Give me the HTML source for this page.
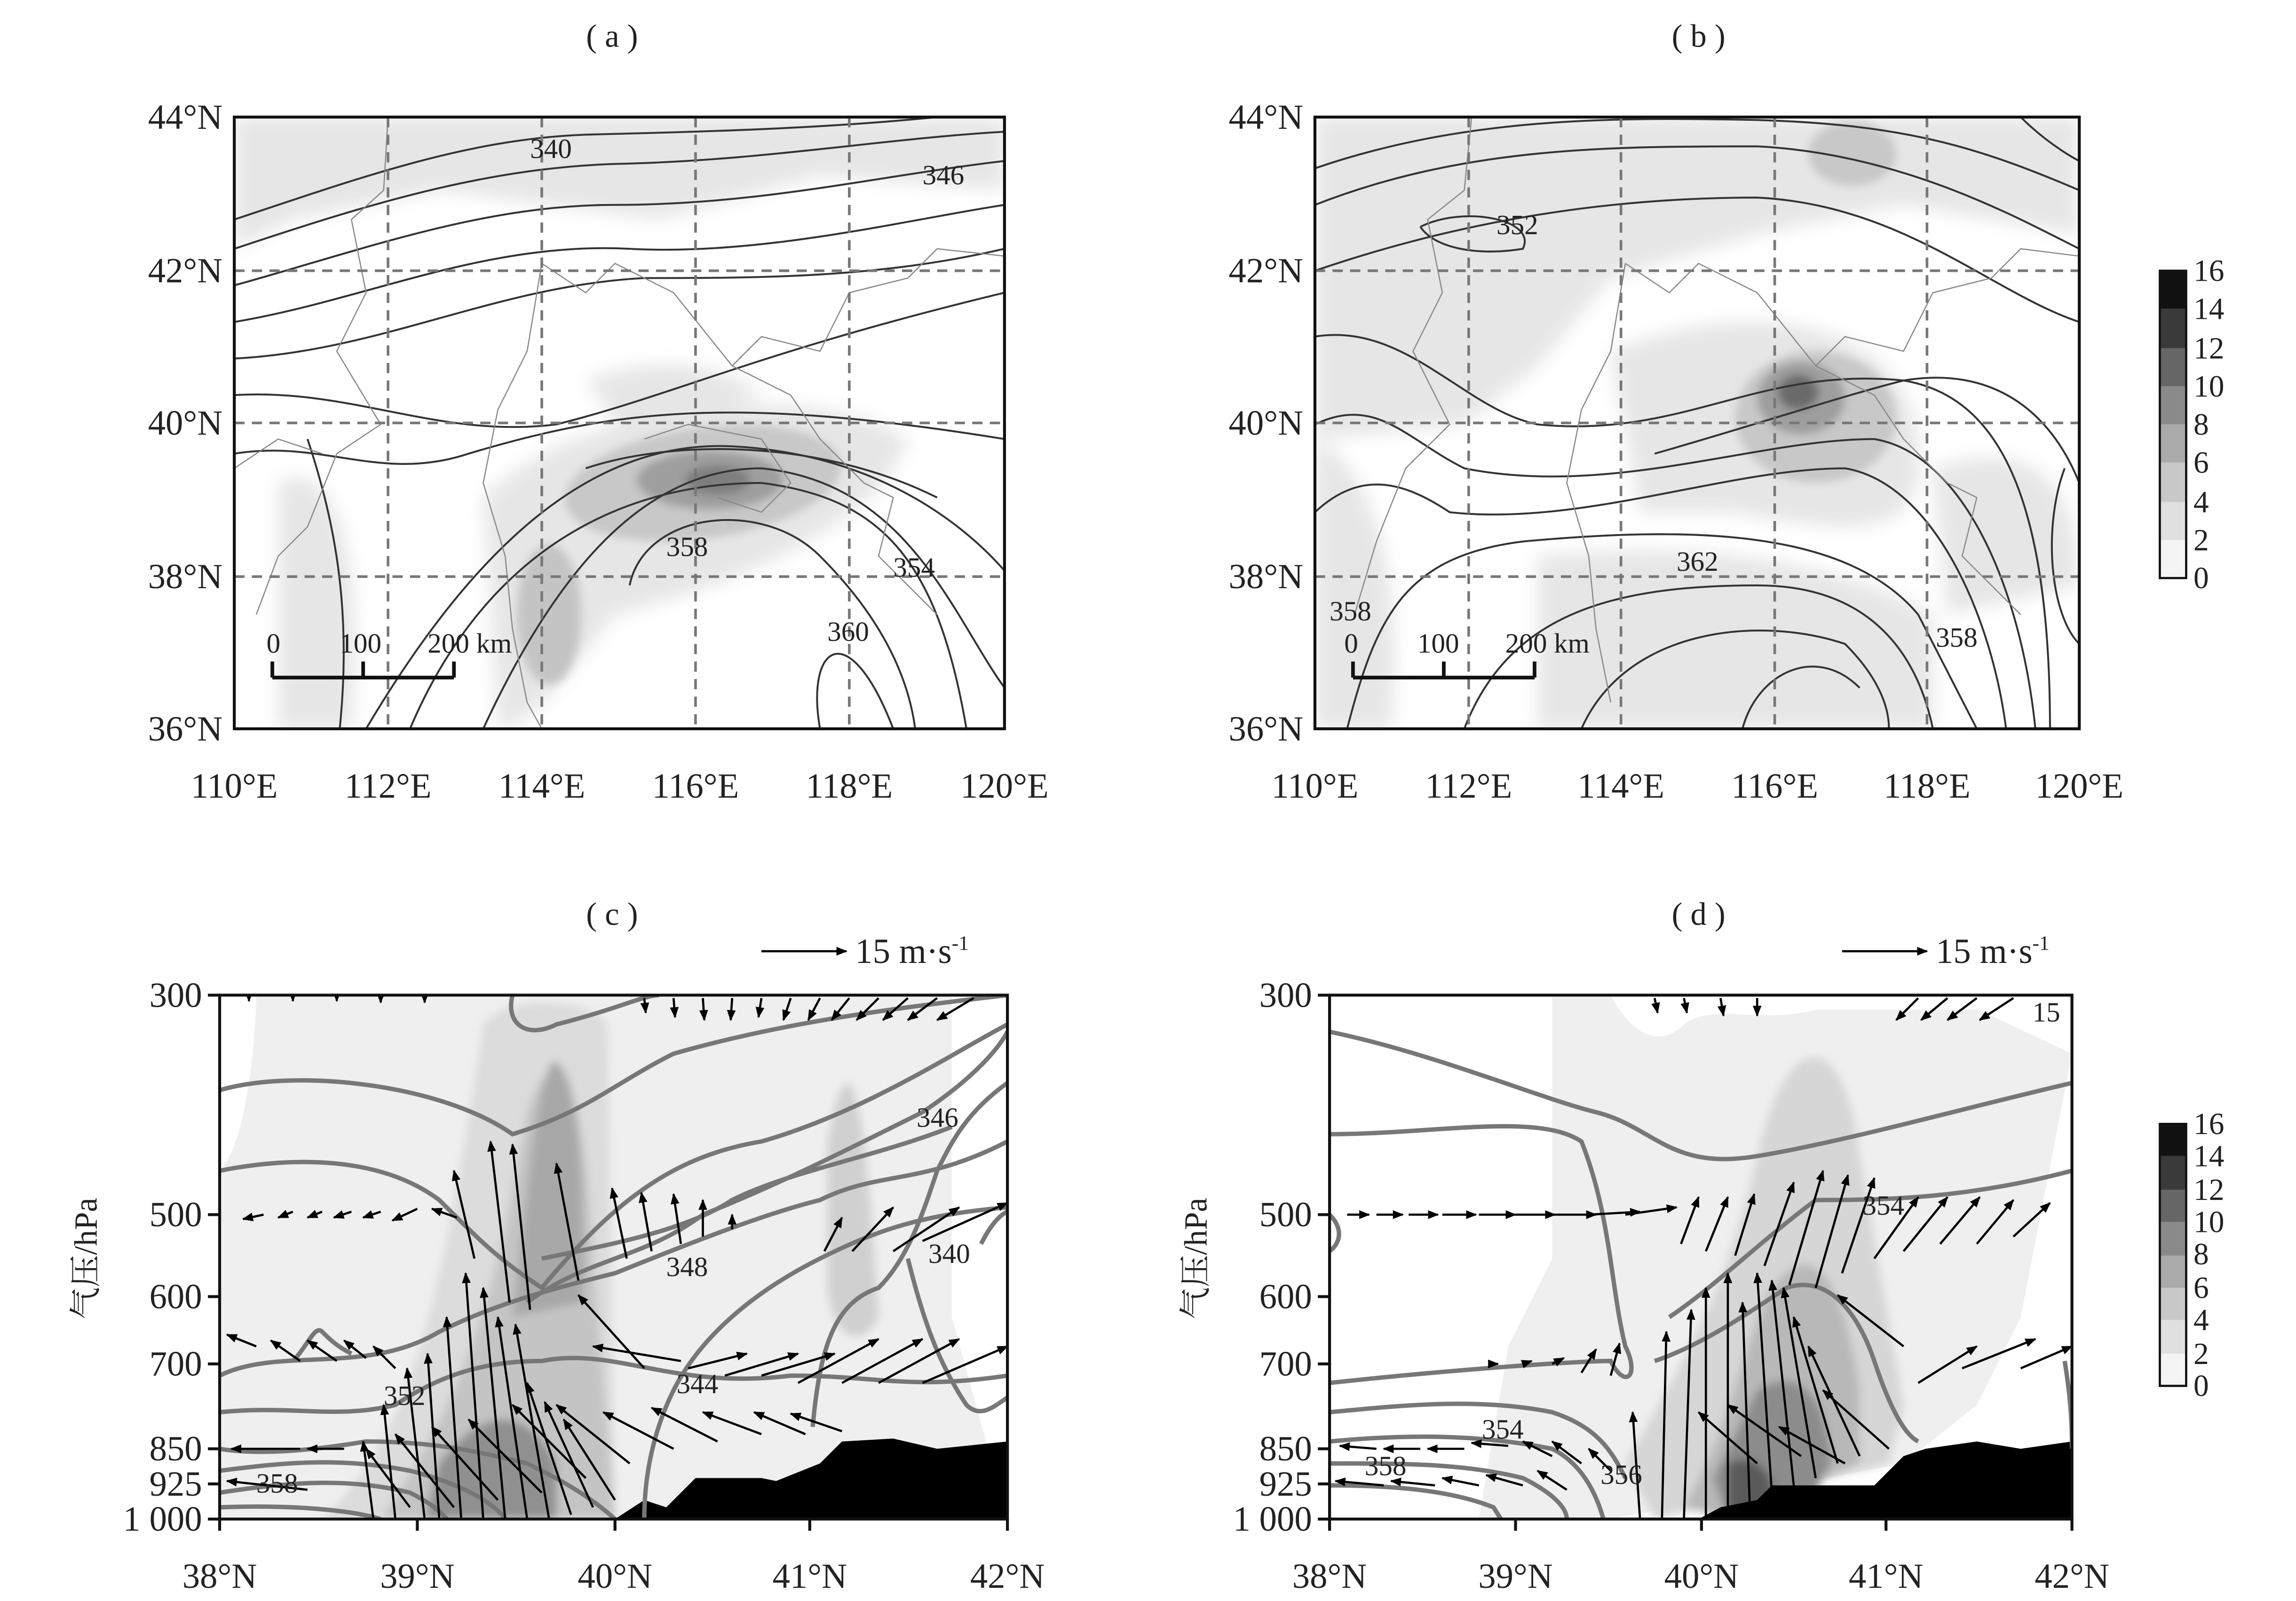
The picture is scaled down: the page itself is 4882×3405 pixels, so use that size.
<!DOCTYPE html>
<html><head><meta charset="utf-8"><style>
html,body{margin:0;padding:0;background:#fff}
svg{display:block}
text{font-family:"Liberation Serif","Noto Serif CJK SC",serif;fill:#222}
</style></head><body>
<svg width="4882" height="3405" viewBox="0 0 1568 1094" preserveAspectRatio="none" xmlns="http://www.w3.org/2000/svg">
<defs>
<marker id="ah" viewBox="0 0 10 10" refX="9" refY="5" markerWidth="5" markerHeight="5" orient="auto"><path d="M0,1 L10,5 L0,9 z" fill="#000"/></marker>
<filter id="bl" x="-50%" y="-50%" width="200%" height="200%"><feGaussianBlur stdDeviation="6"/></filter>
<filter id="bl2" x="-50%" y="-50%" width="200%" height="200%"><feGaussianBlur stdDeviation="3"/></filter>
<clipPath id="ca"><rect x="160" y="80" width="526" height="418"/></clipPath>
<clipPath id="cb"><rect x="898" y="80" width="522" height="418"/></clipPath>
<clipPath id="cc"><rect x="150" y="680" width="538" height="358"/></clipPath>
<clipPath id="cd"><rect x="908" y="680" width="507" height="358"/></clipPath>
</defs>

<!-- Titles -->
<g font-size="22" text-anchor="middle">
<text x="418" y="32">( a )</text><text x="1160" y="32">( b )</text>
<text x="418" y="632">( c )</text><text x="1160" y="632">( d )</text>
</g>

<!-- PANEL A -->
<g clip-path="url(#ca)">
<g fill="#e6e6e6" filter="url(#bl)">
<path d="M160,80 L686,80 L686,130 L560,120 L450,150 L300,130 L200,150 L160,170 Z"/>
<path d="M190,330 C230,310 250,380 240,498 L190,498 Z"/>
<path d="M330,340 C400,270 560,260 620,300 C600,360 500,400 420,420 C380,470 360,498 340,498 Z"/>
<path d="M400,260 C450,240 500,250 520,270 L430,300 Z"/>
</g>
<g filter="url(#bl2)">
<ellipse cx="480" cy="330" rx="95" ry="38" fill="#c8c8c8" transform="rotate(-8 480 330)"/>
<ellipse cx="375" cy="420" rx="22" ry="48" fill="#c4c4c4"/>
<ellipse cx="485" cy="328" rx="50" ry="20" fill="#9e9e9e"/>
<ellipse cx="490" cy="328" rx="22" ry="10" fill="#7e7e7e"/>
</g>
<g fill="none" stroke="#333" stroke-width="1.3">
<path d="M160,150 C250,120 320,95 400,92 C480,90 560,88 640,80"/>
<path d="M160,170 C250,140 330,115 420,112 C520,110 600,95 686,90"/>
<path d="M160,195 C250,170 330,140 420,140 C520,140 600,120 686,110"/>
<path d="M160,220 C250,205 330,165 430,170 C520,175 620,150 686,140"/>
<path d="M160,245 C260,240 340,195 440,190 C520,190 600,190 686,170"/>
<path d="M160,270 C240,265 300,300 380,290 C460,270 520,240 686,200"/>
<path d="M160,310 C220,300 260,330 320,310 C420,280 500,270 686,300"/>
<path d="M210,300 C230,360 240,420 232,498"/>
<path d="M280,498 C330,380 420,330 520,330 C600,340 640,380 660,498"/>
<path d="M330,498 C380,390 440,320 520,320 C620,330 650,420 686,470"/>
<path d="M250,498 C320,380 400,300 500,305 C600,310 660,360 686,390"/>
<path d="M560,498 C550,440 580,420 610,498"/>
<path d="M430,400 C440,350 520,340 560,380 C600,420 620,460 625,498"/>
<path d="M400,320 C460,300 560,300 640,340"/>
</g>
<g fill="none" stroke="#888" stroke-width="0.8">
<path d="M265,80 L262,130 L240,150 L250,200 L230,240 L260,290 L230,310 L210,360 L190,380 L175,420"/>
<path d="M370,180 L360,240 L340,280 L330,330 L345,380 L350,430 L360,480 L370,498"/>
<path d="M370,180 L400,200 L420,180 L460,200 L500,250 L540,270 L560,300 L590,330 L610,340 L600,380 L640,420"/>
<path d="M500,250 L520,230 L560,240 L580,200 L620,190 L640,170 L686,175"/>
<path d="M160,320 L190,300 L220,310"/>
<path d="M440,300 L470,290 L520,300 L540,330 L520,350 L490,340"/>
</g>
<g stroke="#777" stroke-width="1.8" stroke-dasharray="7,5">
<line x1="265" y1="80" x2="265" y2="498"/><line x1="370" y1="80" x2="370" y2="498"/><line x1="475" y1="80" x2="475" y2="498"/><line x1="580" y1="80" x2="580" y2="498"/>
<line x1="160" y1="185" x2="686" y2="185"/><line x1="160" y1="289" x2="686" y2="289"/><line x1="160" y1="394" x2="686" y2="394"/>
</g>
<g font-size="19"><text x="362" y="108">340</text><text x="630" y="126">346</text><text x="455" y="380">358</text><text x="610" y="394">354</text><text x="565" y="438">360</text>
<text x="182" y="446">0</text><text x="232" y="446">100</text><text x="292" y="446">200 km</text></g>
<g stroke="#111" stroke-width="2.5"><line x1="186" y1="463" x2="310" y2="463"/><line x1="186" y1="452" x2="186" y2="463"/><line x1="248" y1="452" x2="248" y2="463"/><line x1="310" y1="452" x2="310" y2="463"/></g>
</g>
<rect x="160" y="80" width="526" height="418" fill="none" stroke="#111" stroke-width="2"/>
<g font-size="24" text-anchor="end">
<text x="152" y="88">44°N</text><text x="152" y="193">42°N</text><text x="152" y="297">40°N</text><text x="152" y="402">38°N</text><text x="152" y="506">36°N</text>
</g>
<g font-size="24" text-anchor="middle">
<text x="160" y="545">110°E</text><text x="265" y="545">112°E</text><text x="370" y="545">114°E</text><text x="475" y="545">116°E</text><text x="580" y="545">118°E</text><text x="686" y="545">120°E</text>
</g>

<!-- PANEL B -->
<g clip-path="url(#cb)">
<g fill="#e6e6e6" filter="url(#bl)">
<path d="M898,80 L1420,80 L1420,160 L1300,140 L1200,160 L1100,190 L1050,250 L1000,290 L898,300 Z"/>
<path d="M898,300 C940,320 960,400 950,498 L898,498 Z"/>
<path d="M1100,240 C1200,200 1300,220 1310,300 C1320,380 1250,360 1180,350 L1120,350 Z"/>
<path d="M1050,380 C1150,370 1250,380 1320,420 L1320,498 L1050,498 Z"/>
<path d="M1320,320 C1380,300 1420,320 1420,400 L1330,420 Z"/>
</g>
<g filter="url(#bl2)">
<ellipse cx="1240" cy="285" rx="55" ry="45" fill="#c8c8c8"/>
<ellipse cx="1265" cy="105" rx="30" ry="22" fill="#c8c8c8"/>
<ellipse cx="1230" cy="272" rx="30" ry="25" fill="#9e9e9e"/>
<ellipse cx="1228" cy="268" rx="14" ry="12" fill="#6a6a6a"/>
</g>
<g fill="none" stroke="#333" stroke-width="1.3">
<path d="M898,115 C1000,80 1100,80 1200,82 C1300,85 1350,100 1420,130"/>
<path d="M898,140 C1000,100 1100,100 1200,100 C1300,105 1380,150 1420,170"/>
<path d="M898,185 C1000,150 1100,135 1200,135 C1300,140 1360,200 1420,220"/>
<path d="M970,155 C1000,140 1050,150 1040,170 C1010,175 980,170 970,155"/>
<path d="M898,230 C960,220 1000,280 1050,290 C1150,300 1200,250 1300,260 C1360,270 1400,330 1400,498"/>
<path d="M898,290 C940,270 960,300 1000,320 C1100,340 1200,300 1280,300 C1340,310 1380,400 1390,498"/>
<path d="M898,350 C930,320 960,330 990,350 C1080,360 1180,320 1260,320 C1320,330 1360,420 1370,498"/>
<path d="M920,498 C940,420 960,380 1040,370 C1150,360 1260,360 1310,420 L1350,498"/>
<path d="M1000,498 C1030,420 1100,400 1200,400 C1280,400 1310,450 1320,498"/>
<path d="M1080,498 C1110,430 1200,420 1260,440 C1280,460 1290,480 1290,498"/>
<path d="M1190,498 C1200,460 1240,440 1270,470"/>
<path d="M1380,80 C1400,100 1420,110 1420,110"/>
<path d="M1130,310 C1200,290 1260,270 1300,260 C1360,250 1400,280 1420,330"/>
<path d="M1410,320 C1395,360 1400,420 1420,440"/>
</g>
<g fill="none" stroke="#888" stroke-width="0.8">
<path d="M1005,80 L1000,130 L975,150 L985,200 L965,240 L990,290 L960,320 L940,370 L925,420"/>
<path d="M1110,180 L1100,240 L1080,280 L1070,330 L1085,380 L1090,430 L1100,480"/>
<path d="M1110,180 L1140,200 L1160,180 L1200,200 L1240,250 L1280,270 L1300,300 L1330,330 L1350,340 L1340,380 L1380,420"/>
<path d="M1240,250 L1260,230 L1300,240 L1320,200 L1360,190 L1380,170 L1420,175"/>
</g>
<g stroke="#777" stroke-width="1.8" stroke-dasharray="7,5">
<line x1="1003" y1="80" x2="1003" y2="498"/><line x1="1107" y1="80" x2="1107" y2="498"/><line x1="1212" y1="80" x2="1212" y2="498"/><line x1="1316" y1="80" x2="1316" y2="498"/>
<line x1="898" y1="185" x2="1420" y2="185"/><line x1="898" y1="289" x2="1420" y2="289"/><line x1="898" y1="394" x2="1420" y2="394"/>
</g>
<g font-size="19"><text x="1022" y="160">352</text><text x="1145" y="390">362</text><text x="908" y="424">358</text><text x="1322" y="442">358</text>
<text x="918" y="446">0</text><text x="968" y="446">100</text><text x="1028" y="446">200 km</text></g>
<g stroke="#111" stroke-width="2.5"><line x1="924" y1="463" x2="1048" y2="463"/><line x1="924" y1="452" x2="924" y2="463"/><line x1="986" y1="452" x2="986" y2="463"/><line x1="1048" y1="452" x2="1048" y2="463"/></g>
</g>
<rect x="898" y="80" width="522" height="418" fill="none" stroke="#111" stroke-width="2"/>
<g font-size="24" text-anchor="end">
<text x="890" y="88">44°N</text><text x="890" y="193">42°N</text><text x="890" y="297">40°N</text><text x="890" y="402">38°N</text><text x="890" y="506">36°N</text>
</g>
<g font-size="24" text-anchor="middle">
<text x="898" y="545">110°E</text><text x="1003" y="545">112°E</text><text x="1107" y="545">114°E</text><text x="1212" y="545">116°E</text><text x="1316" y="545">118°E</text><text x="1420" y="545">120°E</text>
</g>

<!-- Colorbar top -->
<g>
<rect x="1475" y="369" width="18" height="26" fill="#f4f4f4"/>
<rect x="1475" y="343" width="18" height="26" fill="#e0e0e0"/>
<rect x="1475" y="316" width="18" height="27" fill="#c8c8c8"/>
<rect x="1475" y="290" width="18" height="26" fill="#aaa"/>
<rect x="1475" y="264" width="18" height="26" fill="#8a8a8a"/>
<rect x="1475" y="238" width="18" height="26" fill="#666"/>
<rect x="1475" y="211" width="18" height="27" fill="#3a3a3a"/>
<rect x="1475" y="185" width="18" height="26" fill="#111"/>
<rect x="1475" y="185" width="18" height="210" fill="none" stroke="#111" stroke-width="1.5"/>
<g font-size="21"><text x="1498" y="192">16</text><text x="1498" y="218">14</text><text x="1498" y="245">12</text><text x="1498" y="271">10</text><text x="1498" y="297">8</text><text x="1498" y="323">6</text><text x="1498" y="350">4</text><text x="1498" y="376">2</text><text x="1498" y="402">0</text></g>
</g>
<!-- Colorbar bottom -->
<g>
<rect x="1475" y="925" width="18" height="22" fill="#f4f4f4"/>
<rect x="1475" y="902" width="18" height="23" fill="#e0e0e0"/>
<rect x="1475" y="880" width="18" height="22" fill="#c8c8c8"/>
<rect x="1475" y="858" width="18" height="22" fill="#aaa"/>
<rect x="1475" y="835" width="18" height="23" fill="#8a8a8a"/>
<rect x="1475" y="813" width="18" height="22" fill="#666"/>
<rect x="1475" y="790" width="18" height="23" fill="#3a3a3a"/>
<rect x="1475" y="768" width="18" height="22" fill="#111"/>
<rect x="1475" y="768" width="18" height="179" fill="none" stroke="#111" stroke-width="1.5"/>
<g font-size="21"><text x="1498" y="775">16</text><text x="1498" y="797">14</text><text x="1498" y="820">12</text><text x="1498" y="842">10</text><text x="1498" y="864">8</text><text x="1498" y="887">6</text><text x="1498" y="909">4</text><text x="1498" y="932">2</text><text x="1498" y="954">0</text></g>
</g>

<!-- PANEL C -->
<g clip-path="url(#cc)">
<rect x="150" y="680" width="538" height="358" fill="#fff"/>
<path d="M175,680 L650,680 L650,900 L688,1038 L150,1038 L150,800 C170,780 175,700 175,680 Z" fill="#efefef"/>
<g filter="url(#bl2)">
<path d="M330,700 C345,680 400,680 415,700 L420,1038 L220,1038 C280,980 300,900 330,700 Z" fill="#dcdcdc"/>
<path d="M360,760 C380,700 400,740 405,860 L420,1038 L260,1038 C320,950 340,880 360,760 Z" fill="#c4c4c4"/>
<path d="M378,725 C395,730 400,800 398,890 L350,900 C360,820 365,740 378,725 Z" fill="#a8a8a8"/>
<path d="M300,1000 C330,960 360,960 380,1000 L380,1038 L290,1038 Z" fill="#909090"/>
<path d="M565,780 C580,700 590,740 600,900 C590,920 570,920 565,880 Z" fill="#d0d0d0"/>
</g>
<path d="M420,1038 L440,1025 L455,1030 L475,1010 L520,1010 L530,1012 L560,1000 L575,985 L610,983 L640,990 L688,985 L688,1038 Z" fill="#000"/>
<g fill="none" stroke="#777" stroke-width="3">
<path d="M350,680 C345,700 360,710 380,700 C420,690 440,680 450,680"/>
<path d="M150,745 C200,730 300,740 350,775 C400,760 420,740 460,720 C530,700 600,690 688,680"/>
<path d="M150,800 C200,790 260,790 300,820 C330,850 340,860 370,880 C420,820 460,790 520,780 C590,760 650,720 688,700"/>
<path d="M360,890 C400,860 440,860 480,830 C530,810 570,790 630,760 C660,740 680,720 688,705"/>
<path d="M370,860 C420,850 470,840 500,820 C540,800 600,790 650,770"/>
<path d="M150,940 C190,920 250,940 300,910 C340,890 380,880 420,870 C470,850 520,830 560,820 C600,800 630,810 688,780"/>
<path d="M150,965 C200,960 230,970 270,960 C300,940 330,930 370,930 C420,920 460,950 540,940 C600,940 620,950 688,940"/>
<path d="M200,930 C210,920 215,905 220,910 C225,915 230,920 240,925"/>
<path d="M150,990 C180,995 220,990 250,985 C290,985 320,990 360,1000 C380,1010 400,1020 420,1038"/>
<path d="M150,1005 C190,1000 230,995 280,1005 C320,1015 340,1030 345,1038"/>
<path d="M150,1020 C200,1012 240,1010 280,1020 C300,1030 305,1038 305,1038"/>
<path d="M150,1030 C200,1028 240,1032 260,1038"/>
<path d="M440,1038 C440,1000 450,970 460,950 C480,910 520,880 560,860 C600,840 630,830 688,825"/>
<path d="M555,975 C560,920 570,890 600,880 C620,860 630,830 640,800 C650,780 660,760 688,740"/>
<path d="M620,860 C630,900 640,930 660,960 C670,970 680,960 688,955"/>
<path d="M670,850 C680,830 688,828 688,828"/>
</g>
<g stroke="#000" stroke-width="1.5" marker-end="url(#ah)">
<line x1="170" y1="683" x2="170" y2="684"/><line x1="200" y1="682" x2="200" y2="684"/><line x1="230" y1="682" x2="230" y2="684"/><line x1="260" y1="682" x2="260" y2="685"/><line x1="290" y1="682" x2="290" y2="685"/>
<line x1="440" y1="682" x2="441" y2="692"/><line x1="460" y1="682" x2="461" y2="695"/><line x1="480" y1="682" x2="481" y2="697"/><line x1="500" y1="682" x2="499" y2="697"/><line x1="520" y1="682" x2="518" y2="695"/><line x1="540" y1="682" x2="535" y2="697"/><line x1="560" y1="682" x2="552" y2="697"/><line x1="580" y1="682" x2="568" y2="697"/><line x1="600" y1="682" x2="585" y2="697"/><line x1="620" y1="682" x2="603" y2="697"/><line x1="640" y1="682" x2="620" y2="697"/><line x1="665" y1="682" x2="640" y2="697"/>
<line x1="180" y1="830" x2="166" y2="833"/><line x1="200" y1="828" x2="190" y2="832"/><line x1="220" y1="828" x2="210" y2="832"/><line x1="240" y1="828" x2="228" y2="832"/><line x1="260" y1="828" x2="248" y2="832"/><line x1="285" y1="826" x2="268" y2="834"/><line x1="312" y1="832" x2="295" y2="826"/>
<line x1="324" y1="860" x2="310" y2="800"/><line x1="348" y1="890" x2="335" y2="780"/><line x1="362" y1="895" x2="350" y2="782"/><line x1="395" y1="875" x2="380" y2="795"/><line x1="428" y1="860" x2="418" y2="812"/><line x1="445" y1="855" x2="438" y2="815"/><line x1="465" y1="850" x2="460" y2="816"/><line x1="480" y1="845" x2="480" y2="820"/><line x1="500" y1="840" x2="500" y2="830"/>
<line x1="563" y1="855" x2="575" y2="832"/><line x1="582" y1="855" x2="610" y2="825"/><line x1="610" y1="855" x2="655" y2="825"/><line x1="630" y1="848" x2="688" y2="822"/>
<line x1="175" y1="920" x2="155" y2="912"/><line x1="205" y1="930" x2="185" y2="916"/><line x1="230" y1="930" x2="210" y2="916"/><line x1="250" y1="928" x2="235" y2="916"/><line x1="270" y1="935" x2="255" y2="920"/>
<line x1="440" y1="935" x2="395" y2="885"/><line x1="465" y1="930" x2="405" y2="920"/><line x1="470" y1="935" x2="510" y2="925"/><line x1="495" y1="940" x2="545" y2="925"/><line x1="520" y1="940" x2="570" y2="925"/><line x1="545" y1="945" x2="600" y2="915"/><line x1="575" y1="945" x2="630" y2="915"/><line x1="600" y1="945" x2="655" y2="915"/><line x1="630" y1="945" x2="688" y2="920"/>
<line x1="255" y1="1038" x2="248" y2="985"/><line x1="270" y1="1038" x2="262" y2="960"/><line x1="290" y1="1038" x2="278" y2="935"/><line x1="300" y1="1038" x2="292" y2="925"/><line x1="315" y1="1038" x2="305" y2="900"/><line x1="330" y1="1038" x2="318" y2="870"/><line x1="345" y1="1038" x2="330" y2="880"/><line x1="360" y1="1038" x2="340" y2="900"/><line x1="375" y1="1038" x2="352" y2="905"/><line x1="390" y1="1035" x2="360" y2="945"/><line x1="405" y1="1030" x2="372" y2="958"/><line x1="420" y1="1025" x2="385" y2="970"/>
<line x1="280" y1="1030" x2="250" y2="990"/><line x1="310" y1="1030" x2="270" y2="980"/><line x1="340" y1="1025" x2="295" y2="975"/><line x1="370" y1="1020" x2="320" y2="970"/><line x1="400" y1="1010" x2="350" y2="960"/><line x1="430" y1="1000" x2="380" y2="960"/><line x1="460" y1="990" x2="412" y2="965"/><line x1="490" y1="985" x2="445" y2="962"/><line x1="520" y1="980" x2="480" y2="965"/><line x1="550" y1="980" x2="515" y2="965"/><line x1="575" y1="978" x2="540" y2="966"/>
<line x1="205" y1="990" x2="158" y2="990"/><line x1="235" y1="990" x2="210" y2="990"/><line x1="210" y1="1018" x2="155" y2="1012"/>
</g>
<g font-size="19"><text x="626" y="770">346</text><text x="634" y="863">340</text><text x="455" y="872">348</text><text x="462" y="952">344</text><text x="262" y="960">352</text><text x="175" y="1020">358</text></g>
</g>
<rect x="150" y="680" width="538" height="358" fill="none" stroke="#111" stroke-width="2"/>
<g stroke="#111" stroke-width="2">
<line x1="142" y1="680" x2="150" y2="680"/><line x1="142" y1="830" x2="150" y2="830"/><line x1="142" y1="886" x2="150" y2="886"/><line x1="142" y1="932" x2="150" y2="932"/><line x1="142" y1="990" x2="150" y2="990"/><line x1="142" y1="1014" x2="150" y2="1014"/><line x1="142" y1="1038" x2="150" y2="1038"/>
<line x1="285" y1="1038" x2="285" y2="1046"/><line x1="420" y1="1038" x2="420" y2="1046"/><line x1="553" y1="1038" x2="553" y2="1046"/><line x1="688" y1="1038" x2="688" y2="1046"/><line x1="150" y1="1038" x2="150" y2="1046"/>
</g>
<g font-size="24" text-anchor="end">
<text x="138" y="688">300</text><text x="138" y="838">500</text><text x="138" y="894">600</text><text x="138" y="940">700</text><text x="138" y="998">850</text><text x="138" y="1022">925</text><text x="138" y="1046">1 000</text>
</g>
<g font-size="24" text-anchor="middle">
<text x="150" y="1085">38°N</text><text x="285" y="1085">39°N</text><text x="420" y="1085">40°N</text><text x="553" y="1085">41°N</text><text x="688" y="1085">42°N</text>
</g>
<text x="66" y="860" font-size="22" text-anchor="middle" transform="rotate(-90 66 860)">气压/hPa</text>
<line x1="520" y1="650" x2="578" y2="650" stroke="#000" stroke-width="1.5" marker-end="url(#ah)"/>
<text x="584" y="658" font-size="24">15 m·s<tspan font-size="14" dy="-9">-1</tspan></text>

<!-- PANEL D -->
<g clip-path="url(#cd)">
<rect x="908" y="680" width="507" height="358" fill="#fff"/>
<path d="M1060,680 L1330,680 L1415,720 L1380,900 L1350,960 L1300,1000 L1100,1038 L1010,1038 L1030,920 L1060,860 Z" fill="#efefef"/>
<path d="M1100,680 C1110,700 1130,720 1150,700 C1170,685 1200,700 1240,690 L1360,690 L1330,680 Z" fill="#fff"/>
<g filter="url(#bl2)">
<path d="M1200,790 C1220,700 1260,700 1270,790 L1300,960 L1290,1000 L1130,1038 L1110,1000 C1150,930 1180,880 1200,790 Z" fill="#d6d6d6"/>
<path d="M1210,880 C1240,840 1260,880 1270,950 L1270,1000 L1180,1038 L1150,1030 C1180,980 1190,920 1210,880 Z" fill="#b8b8b8"/>
<path d="M1200,950 C1230,930 1250,960 1250,1000 L1240,1020 L1180,1038 L1170,1010 Z" fill="#8c8c8c"/>
<path d="M1180,1000 C1200,990 1215,1010 1210,1030 L1180,1038 Z" fill="#5a5a5a"/>
</g>
<path d="M1160,1038 L1175,1030 L1200,1025 L1210,1015 L1280,1015 L1300,995 L1315,990 L1350,985 L1380,990 L1415,985 L1415,1038 Z" fill="#000"/>
<g fill="none" stroke="#777" stroke-width="3">
<path d="M908,705 C980,720 1050,750 1090,760 C1130,770 1140,800 1200,790 C1260,780 1330,760 1415,740"/>
<path d="M908,775 C980,775 1050,760 1080,780 C1100,830 1100,880 1110,920 C1120,940 1110,950 1100,930 C1080,930 1000,935 908,945"/>
<path d="M908,830 C918,840 915,850 908,855"/>
<path d="M1140,900 C1170,880 1200,850 1240,820 C1280,820 1340,820 1415,800"/>
<path d="M1130,930 C1160,920 1190,900 1220,880 C1250,870 1270,900 1280,930 C1290,960 1300,980 1310,985"/>
<path d="M908,965 C960,960 1010,955 1060,965 C1090,975 1100,990 1110,1010"/>
<path d="M908,985 C960,980 1010,980 1060,990 C1080,1000 1090,1020 1095,1038"/>
<path d="M908,1000 C960,1000 1000,1000 1040,1010 C1060,1020 1070,1030 1070,1038"/>
<path d="M908,1015 C950,1015 990,1018 1020,1030 L1025,1038"/>
<path d="M1410,930 C1415,960 1415,980 1415,990"/>
</g>
<g stroke="#000" stroke-width="1.5" marker-end="url(#ah)">
<line x1="1130" y1="682" x2="1132" y2="692"/><line x1="1150" y1="682" x2="1152" y2="692"/><line x1="1175" y1="682" x2="1177" y2="694"/><line x1="1200" y1="682" x2="1200" y2="694"/>
<line x1="1310" y1="682" x2="1295" y2="697"/><line x1="1330" y1="682" x2="1312" y2="697"/><line x1="1350" y1="682" x2="1330" y2="697"/><line x1="1375" y1="682" x2="1352" y2="697"/>
<line x1="920" y1="830" x2="935" y2="830"/><line x1="940" y1="830" x2="958" y2="830"/><line x1="962" y1="830" x2="982" y2="830"/><line x1="985" y1="830" x2="1008" y2="830"/><line x1="1010" y1="830" x2="1035" y2="830"/><line x1="1035" y1="830" x2="1062" y2="830"/><line x1="1060" y1="830" x2="1090" y2="830"/><line x1="1085" y1="830" x2="1120" y2="828"/><line x1="1110" y1="830" x2="1145" y2="825"/>
<line x1="1148" y1="850" x2="1160" y2="818"/><line x1="1165" y1="855" x2="1180" y2="818"/><line x1="1185" y1="858" x2="1198" y2="816"/><line x1="1205" y1="865" x2="1225" y2="808"/><line x1="1222" y1="878" x2="1245" y2="800"/><line x1="1240" y1="880" x2="1262" y2="803"/><line x1="1258" y1="870" x2="1280" y2="805"/><line x1="1280" y1="860" x2="1310" y2="818"/><line x1="1300" y1="855" x2="1330" y2="818"/><line x1="1325" y1="850" x2="1352" y2="818"/><line x1="1350" y1="850" x2="1375" y2="820"/><line x1="1375" y1="845" x2="1400" y2="822"/>
<line x1="1020" y1="932" x2="1023" y2="932"/><line x1="1040" y1="932" x2="1046" y2="930"/><line x1="1060" y1="932" x2="1068" y2="928"/><line x1="1080" y1="938" x2="1090" y2="922"/><line x1="1100" y1="940" x2="1106" y2="918"/>
<line x1="1300" y1="920" x2="1255" y2="885"/><line x1="1310" y1="945" x2="1350" y2="920"/><line x1="1340" y1="935" x2="1390" y2="915"/><line x1="1380" y1="935" x2="1415" y2="920"/>
<line x1="1120" y1="1038" x2="1115" y2="965"/><line x1="1135" y1="1038" x2="1138" y2="910"/><line x1="1150" y1="1038" x2="1155" y2="895"/><line x1="1165" y1="1038" x2="1165" y2="880"/><line x1="1180" y1="1030" x2="1180" y2="870"/><line x1="1195" y1="1030" x2="1190" y2="890"/><line x1="1210" y1="1020" x2="1200" y2="870"/><line x1="1225" y1="1015" x2="1210" y2="875"/><line x1="1240" y1="1010" x2="1218" y2="880"/><line x1="1255" y1="1000" x2="1225" y2="900"/><line x1="1270" y1="995" x2="1235" y2="920"/><line x1="1290" y1="990" x2="1245" y2="950"/><line x1="1200" y1="1000" x2="1160" y2="965"/><line x1="1230" y1="995" x2="1180" y2="960"/><line x1="1260" y1="1000" x2="1215" y2="975"/>
<line x1="940" y1="990" x2="915" y2="988"/><line x1="970" y1="990" x2="945" y2="990"/><line x1="1000" y1="990" x2="975" y2="990"/><line x1="1030" y1="988" x2="1005" y2="986"/><line x1="1060" y1="995" x2="1040" y2="985"/><line x1="1080" y1="1000" x2="1060" y2="985"/><line x1="1100" y1="1005" x2="1085" y2="990"/>
<line x1="945" y1="1015" x2="912" y2="1012"/><line x1="980" y1="1015" x2="950" y2="1012"/><line x1="1010" y1="1015" x2="985" y2="1010"/><line x1="1040" y1="1015" x2="1015" y2="1008"/><line x1="1070" y1="1018" x2="1050" y2="1005"/>
</g>
<g font-size="19"><text x="1388" y="698">15</text><text x="1272" y="830">354</text><text x="1012" y="983">354</text><text x="1093" y="1014">356</text><text x="932" y="1008">358</text></g>
</g>
<rect x="908" y="680" width="507" height="358" fill="none" stroke="#111" stroke-width="2"/>
<g stroke="#111" stroke-width="2">
<line x1="900" y1="680" x2="908" y2="680"/><line x1="900" y1="830" x2="908" y2="830"/><line x1="900" y1="886" x2="908" y2="886"/><line x1="900" y1="932" x2="908" y2="932"/><line x1="900" y1="990" x2="908" y2="990"/><line x1="900" y1="1014" x2="908" y2="1014"/><line x1="900" y1="1038" x2="908" y2="1038"/>
<line x1="908" y1="1038" x2="908" y2="1046"/><line x1="1035" y1="1038" x2="1035" y2="1046"/><line x1="1162" y1="1038" x2="1162" y2="1046"/><line x1="1288" y1="1038" x2="1288" y2="1046"/><line x1="1415" y1="1038" x2="1415" y2="1046"/>
</g>
<g font-size="24" text-anchor="end">
<text x="896" y="688">300</text><text x="896" y="838">500</text><text x="896" y="894">600</text><text x="896" y="940">700</text><text x="896" y="998">850</text><text x="896" y="1022">925</text><text x="896" y="1046">1 000</text>
</g>
<g font-size="24" text-anchor="middle">
<text x="908" y="1085">38°N</text><text x="1035" y="1085">39°N</text><text x="1162" y="1085">40°N</text><text x="1288" y="1085">41°N</text><text x="1415" y="1085">42°N</text>
</g>
<text x="824" y="860" font-size="22" text-anchor="middle" transform="rotate(-90 824 860)">气压/hPa</text>
<line x1="1258" y1="650" x2="1316" y2="650" stroke="#000" stroke-width="1.5" marker-end="url(#ah)"/>
<text x="1322" y="658" font-size="24">15 m·s<tspan font-size="14" dy="-9">-1</tspan></text>
</svg>
</body></html>
